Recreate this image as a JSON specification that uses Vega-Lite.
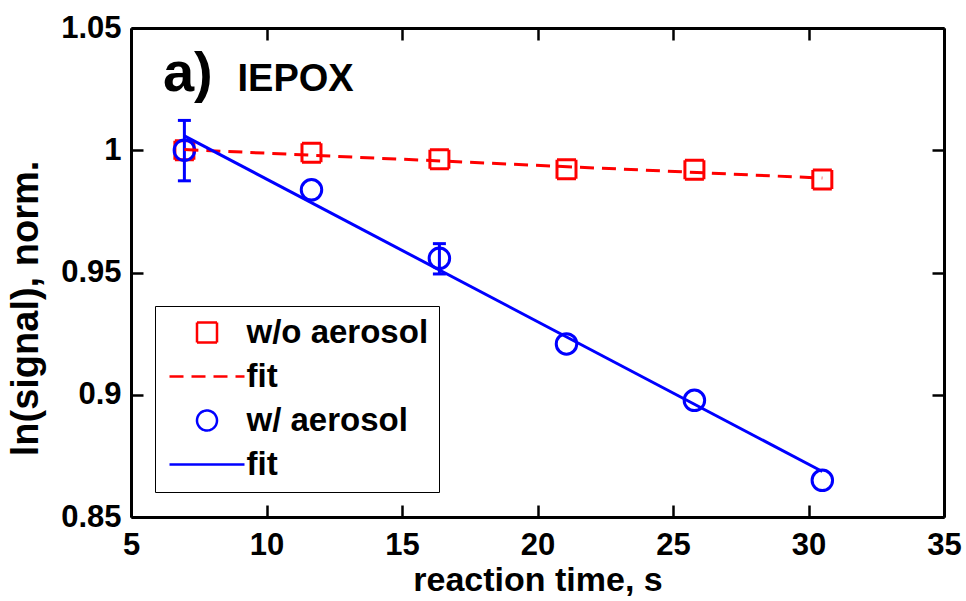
{
  "$schema": "https://vega.github.io/schema/vega-lite/v6.json",
  "width": 813,
  "height": 489,
  "autosize": "none",
  "padding": {"left": 131, "top": 28, "right": 22, "bottom": 84},
  "background": "white",
  "config": {
    "font": "Liberation Sans",
    "view": {"stroke": null},
    "axis": {"grid": false, "domainColor": "black", "tickColor": "black", "labelColor": "black", "titleColor": "black"}
  },
  "datasets": {
    "wo": [
      {"t": 6.97, "v": 1.0, "series": "w/o aerosol"},
      {"t": 11.66, "v": 0.999, "series": "w/o aerosol"},
      {"t": 16.38, "v": 0.9963, "series": "w/o aerosol"},
      {"t": 21.07, "v": 0.9922, "series": "w/o aerosol"},
      {"t": 25.79, "v": 0.992, "series": "w/o aerosol"},
      {"t": 30.51, "v": 0.988, "series": "w/o aerosol"}
    ],
    "w": [
      {"t": 6.97, "v": 1.0, "series": "w/ aerosol"},
      {"t": 11.66, "v": 0.9838, "series": "w/ aerosol"},
      {"t": 16.38, "v": 0.9558, "series": "w/ aerosol"},
      {"t": 21.07, "v": 0.9208, "series": "w/ aerosol"},
      {"t": 25.79, "v": 0.8977, "series": "w/ aerosol"},
      {"t": 30.51, "v": 0.865, "series": "w/ aerosol"}
    ],
    "err": [
      {"t": 6.97, "lo": 0.9875, "hi": 1.0122},
      {"t": 16.38, "lo": 0.9494, "hi": 0.9618}
    ],
    "fitwo": [
      {"t": 6.97, "v": 1.0003},
      {"t": 30.51, "v": 0.9886}
    ],
    "fitw": [
      {"t": 6.97, "v": 1.0059},
      {"t": 30.51, "v": 0.8686}
    ]
  },
  "resolve": {"axis": {"x": "independent", "y": "independent"}},
  "layer": [
    {
      "data": {"name": "wo"},
      "mark": {"type": "point", "size": 361, "filled": false, "strokeWidth": 3, "opacity": 1},
      "encoding": {
        "x": {"field": "t", "type": "quantitative",
          "scale": {"domain": [5, 35], "nice": false, "zero": false},
          "axis": {"orient": "bottom", "values": [5, 10, 15, 20, 25, 30, 35], "tickSize": -12, "tickWidth": 2.5, "domainWidth": 3,
            "labelPadding": 25, "labelFontSize": 31, "labelFontWeight": "bold", "labelFlush": false, "labelOverlap": false,
            "title": "reaction time, s", "titleFontSize": 34, "titleFontWeight": "bold", "titlePadding": 3}},
        "y": {"field": "v", "type": "quantitative",
          "scale": {"domain": [0.85, 1.05], "nice": false, "zero": false},
          "axis": {"orient": "left", "values": [0.85, 0.9, 0.95, 1.0, 1.05], "format": "~g", "tickSize": -12, "tickWidth": 2.5, "domainWidth": 3,
            "labelPadding": 22, "labelFontSize": 31, "labelFontWeight": "bold", "labelFlush": false, "labelOverlap": false,
            "title": "ln(signal), norm.", "titleFontSize": 38, "titleFontWeight": "bold", "titleX": -105, "titleY": 280, "titleAlign": "center", "titleBaseline": "middle", "titleAngle": -90}},
        "color": {"field": "series", "type": "nominal",
          "scale": {"domain": ["w/o aerosol", "fit_wo", "w/ aerosol", "fit_w"], "range": ["#ff0000", "#ff0000", "#0000ff", "#0000ff"]},
          "legend": {
            "title": null, "orient": "none", "legendX": 24, "legendY": 278,
            "strokeColor": "black", "fillColor": "white", "padding": 10,
            "labelFontSize": 33, "labelFontWeight": "bold", "labelFont": "Liberation Sans", "labelColor": "black", "labelLimit": 400,
            "labelOffset": 23, "symbolOffset": 25.5, "rowPadding": 10, "symbolSize": 400, "symbolStrokeWidth": 2.5,
            "labelExpr": "indexof(datum.label, 'fit') == 0 ? 'fit' : datum.label"
          }},
        "shape": {"field": "series", "type": "nominal",
          "scale": {"domain": ["w/o aerosol", "fit_wo", "w/ aerosol", "fit_w"], "range": ["square", "M-3.75,0H3.75", "circle", "M-3.75,0H3.75"]},
          "legend": {"title": null}},
        "strokeDash": {"field": "series", "type": "nominal",
          "scale": {"domain": ["w/o aerosol", "fit_wo", "w/ aerosol", "fit_w"], "range": [[1, 0], [14, 8], [1, 0], [1, 0]]},
          "legend": {"title": null}}
      }
    },
    {
      "data": {"name": "err"},
      "mark": {"type": "rule", "strokeWidth": 3, "color": "#0000ff"},
      "encoding": {
        "x": {"field": "t", "type": "quantitative", "axis": null},
        "y": {"field": "lo", "type": "quantitative", "axis": null},
        "y2": {"field": "hi"}
      }
    },
    {
      "data": {"name": "err"},
      "mark": {"type": "tick", "orient": "horizontal", "thickness": 3, "size": 13, "color": "#0000ff", "opacity": 1},
      "encoding": {
        "x": {"field": "t", "type": "quantitative", "axis": null},
        "y": {"field": "lo", "type": "quantitative", "axis": null}
      }
    },
    {
      "data": {"name": "err"},
      "mark": {"type": "tick", "orient": "horizontal", "thickness": 3, "size": 13, "color": "#0000ff", "opacity": 1},
      "encoding": {
        "x": {"field": "t", "type": "quantitative", "axis": null},
        "y": {"field": "hi", "type": "quantitative", "axis": null}
      }
    },
    {
      "data": {"name": "w"},
      "mark": {"type": "point", "shape": "circle", "size": 420, "filled": false, "strokeWidth": 3, "color": "#0000ff", "opacity": 1},
      "encoding": {
        "x": {"field": "t", "type": "quantitative",
          "axis": {"orient": "top", "values": [5, 10, 15, 20, 25, 30, 35], "tickSize": -12, "tickWidth": 2.5, "domainWidth": 3, "labels": false, "title": null}},
        "y": {"field": "v", "type": "quantitative",
          "axis": {"orient": "right", "values": [0.85, 0.9, 0.95, 1.0, 1.05], "tickSize": -12, "tickWidth": 2.5, "domainWidth": 3, "labels": false, "title": null}}
      }
    },
    {
      "data": {"name": "fitwo"},
      "mark": {"type": "line", "strokeWidth": 3, "color": "#ff0000", "strokeDash": [14, 8]},
      "encoding": {
        "x": {"field": "t", "type": "quantitative", "axis": null},
        "y": {"field": "v", "type": "quantitative", "axis": null}
      }
    },
    {
      "data": {"name": "fitw"},
      "mark": {"type": "line", "strokeWidth": 3, "color": "#0000ff"},
      "encoding": {
        "x": {"field": "t", "type": "quantitative", "axis": null},
        "y": {"field": "v", "type": "quantitative", "axis": null}
      }
    },
    {
      "data": {"values": [{"label": "a)"}]},
      "mark": {"type": "text", "text": "a)", "fontSize": 56, "fontWeight": "bold", "align": "left", "baseline": "alphabetic", "color": "black"},
      "encoding": {
        "x": {"datum": 6.18, "type": "quantitative", "axis": null},
        "y": {"datum": 1.0241, "type": "quantitative", "axis": null}
      }
    },
    {
      "data": {"values": [{"label": "IEPOX"}]},
      "mark": {"type": "text", "text": "IEPOX", "fontSize": 38, "fontWeight": "bold", "align": "left", "baseline": "alphabetic", "color": "black"},
      "encoding": {
        "x": {"datum": 8.93, "type": "quantitative", "axis": null},
        "y": {"datum": 1.0241, "type": "quantitative", "axis": null}
      }
    }
  ]
}
